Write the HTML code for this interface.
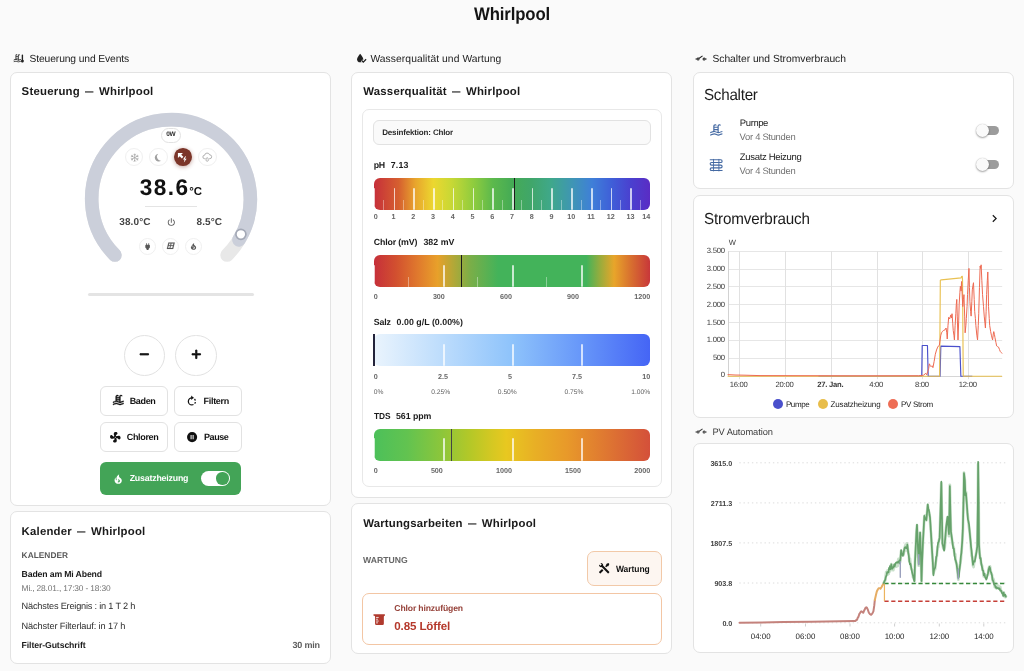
<!DOCTYPE html>
<html lang="de"><head><meta charset="utf-8"><title>Whirlpool</title><style>
html,body{margin:0;padding:0;}
body{width:1024px;height:671px;overflow:hidden;background:#fafafa;position:relative;font-family:"Liberation Sans",sans-serif;}
.t{position:absolute;white-space:pre;line-height:1;text-rendering:geometricPrecision;font-family:"Liberation Sans",sans-serif;}
.card{position:absolute;background:#fff;border:1px solid #e3e3e3;border-radius:7px;box-sizing:border-box;}
.abs{position:absolute;box-sizing:border-box;}
svg{position:absolute;overflow:visible;}
</style></head><body>
<header>
<span class="t" style="left:473.70px;top:5.00px;font-size:18.00px;font-weight:700;color:#141414;letter-spacing:-0.131px;transform:scaleX(0.930);transform-origin:0 0;">Whirlpool</span>
<span class="t" style="left:29.50px;top:55.00px;font-size:10.30px;font-weight:400;color:#212121;letter-spacing:-0.118px;">Steuerung und Events</span>
<span class="t" style="left:370.40px;top:55.00px;font-size:10.30px;font-weight:400;color:#212121;letter-spacing:0.072px;">Wasserqualität und Wartung</span>
<span class="t" style="left:712.40px;top:55.00px;font-size:10.30px;font-weight:400;color:#212121;letter-spacing:-0.014px;">Schalter und Stromverbrauch</span>
<span class="t" style="left:712.40px;top:428.00px;font-size:9.30px;font-weight:400;color:#3c3c3c;letter-spacing:-0.077px;">PV Automation</span>
<svg style="left:13.2px;top:52.6px" width="11" height="11" viewBox="0 0 24 24"><g transform="translate(0,1) scale(0.78,0.92)"><path d="M2,15C3.67,14.25 5.33,13.5 7,13.17V5A3,3 0 0,1 10,2C11.31,2 12.42,2.83 12.83,4H10A1,1 0 0,0 9,5V6H14V5A3,3 0 0,1 17,2C18.31,2 19.42,2.83 19.83,4H17A1,1 0 0,0 16,5V14.94C18,14.62 20,13 22,13V15C19.78,15 17.56,17 15.33,17C13.11,17 10.89,15 8.67,15C6.44,15 4.22,16 2,17V15M14,8H9V10H14V8M14,12H9V13C10.67,13.16 12.33,14.31 14,14.79V12M2,19C4.22,18 6.44,17 8.67,17C10.89,17 13.11,19 15.33,19C17.56,19 19.78,17 22,17V19C19.78,19 17.56,21 15.33,21C13.11,21 10.89,19 8.67,19C6.44,19 4.22,20 2,21V19Z" fill="#212121"/></g><path d="M20.5,3A1.5,1.5 0 0,1 22,4.5V14.6A3.2,3.2 0 1,1 19,14.6V4.5A1.5,1.5 0 0,1 20.5,3Z" fill="#212121"/></svg>
<svg style="left:355.0px;top:52.3px" width="12.4" height="12.4" viewBox="0 0 24 24"><path d="M10,20A6,6 0 0,1 4,14C4,10 10,3.25 10,3.25C10,3.25 16,10 16,14A6,6 0 0,1 10,20Z" fill="#212121"/><path d="M13,16.5l3,3l5.5,-5.5" stroke="#fafafa" stroke-width="5.2" fill="none"/><path d="M13,16.5l3,3l5.5,-5.5" stroke="#212121" stroke-width="2.4" fill="none"/></svg>
<svg style="left:695.10px;top:53.00px" width="12.1" height="12.1" viewBox="0 0 24 24"><path d="M1,11H3.17C3.58,9.83 4.69,9 6,9C6.65,9 7.25,9.21 7.74,9.56L14.44,4.87L15.58,6.5L8.89,11.2C8.96,11.45 9,11.72 9,12A3,3 0 0,1 6,15C4.69,15 3.58,14.17 3.17,13H1V11M23,11V13H20.83C20.42,14.17 19.31,15 18,15A3,3 0 0,1 15,12A3,3 0 0,1 18,9C19.31,9 20.42,9.83 20.83,11H23M6,11A1,1 0 0,0 5,12A1,1 0 0,0 6,13A1,1 0 0,0 7,12A1,1 0 0,0 6,11M18,11A1,1 0 0,0 17,12A1,1 0 0,0 18,13A1,1 0 0,0 19,12A1,1 0 0,0 18,11Z" fill="#212121"/></svg>
<svg style="left:694.80px;top:426.30px" width="12.1" height="12.1" viewBox="0 0 24 24"><path d="M1,11H3.17C3.58,9.83 4.69,9 6,9C6.65,9 7.25,9.21 7.74,9.56L14.44,4.87L15.58,6.5L8.89,11.2C8.96,11.45 9,11.72 9,12A3,3 0 0,1 6,15C4.69,15 3.58,14.17 3.17,13H1V11M23,11V13H20.83C20.42,14.17 19.31,15 18,15A3,3 0 0,1 15,12A3,3 0 0,1 18,9C19.31,9 20.42,9.83 20.83,11H23M6,11A1,1 0 0,0 5,12A1,1 0 0,0 6,13A1,1 0 0,0 7,12A1,1 0 0,0 6,11M18,11A1,1 0 0,0 17,12A1,1 0 0,0 18,13A1,1 0 0,0 19,12A1,1 0 0,0 18,11Z" fill="#3c3c3c"/></svg>
</header>
<main>
<section aria-label="Steuerung und Events">
<div class="card" style="left:10.10px;top:72.10px;width:320.90px;height:433.60px;border-radius:7px;"></div>
<span class="t" style="left:21.60px;top:87.00px;font-size:11.40px;font-weight:700;color:#1a1a1a;letter-spacing:0.228px;">Steuerung</span>
<span class="t" style="left:85.20px;top:87.00px;font-size:11.40px;font-weight:700;color:#1a1a1a;letter-spacing:0.000px;transform:scaleX(0.737);transform-origin:0 0;">—</span>
<span class="t" style="left:99.10px;top:87.00px;font-size:11.40px;font-weight:700;color:#1a1a1a;letter-spacing:0.206px;">Whirlpool</span>
<svg style="left:0;top:0" width="340" height="300" viewBox="0 0 340 300"><path d="M114.93 255.07 A79.30 79.30 0 1 1 227.07 255.07" fill="none" stroke="#e8e8e8" stroke-width="13.6" stroke-linecap="round"/><path d="M114.93 255.07 A79.30 79.30 0 1 1 238.97 239.84" fill="none" stroke="#cbcfda" stroke-width="13.6" stroke-linecap="round"/><circle cx="240.90" cy="234.30" r="5.0" fill="#fff" stroke="#a4a9b6" stroke-width="1.7"/></svg>
<div class="abs" style="left:160.60px;top:127.60px;width:20.80px;height:15.60px;border:1px solid #e2e2e2;border-radius:8px;background:#fff;"></div>
<span class="t" style="left:166.30px;top:132.00px;font-size:6.50px;font-weight:700;color:#2a2a2a;letter-spacing:-0.350px;">0W</span>
<div class="abs" style="left:124.90px;top:147.90px;width:18.60px;height:18.60px;border-radius:50%;background:#fff;border:1px solid #f0f0f0;"></div>
<div class="abs" style="left:149.30px;top:147.90px;width:18.60px;height:18.60px;border-radius:50%;background:#fff;border:1px solid #f0f0f0;"></div>
<div class="abs" style="left:174.10px;top:148.30px;width:17.80px;height:17.80px;border-radius:50%;background:#7b3529;box-shadow:0 1px 4px rgba(123,53,41,.45);"></div>
<div class="abs" style="left:198.10px;top:147.90px;width:18.60px;height:18.60px;border-radius:50%;background:#fff;border:1px solid #f0f0f0;"></div>
<svg style="left:129.6px;top:152.6px" width="9.4" height="9.4" viewBox="0 0 24 24"><path d="M12.00,21.50L12.00,2.50M3.77,16.75L20.23,7.25M3.77,7.25L20.23,16.75M12.00,18.60L14.26,20.86M12.00,18.60L9.74,20.86M6.28,15.30L5.46,18.39M6.28,15.30L3.19,14.47M6.28,8.70L3.19,9.53M6.28,8.70L5.46,5.61M12.00,5.40L9.74,3.14M12.00,5.40L14.26,3.14M17.72,8.70L18.54,5.61M17.72,8.70L20.81,9.53M17.72,15.30L20.81,14.47M17.72,15.30L18.54,18.39" fill="none" stroke="#a0a0a0" stroke-width="1.7" stroke-linecap="round"/></svg>
<svg style="left:154.10px;top:152.60px" width="9.40" height="9.40" viewBox="0 0 24 24"><path d="M2 12A10 10 0 0 0 15 21.54A10 10 0 0 1 15 2.46A10 10 0 0 0 2 12Z" fill="#a0a0a0" transform="rotate(-25 12 12)"/></svg>
<svg style="left:177.3px;top:151.9px" width="11" height="11" viewBox="0 0 24 24"><path d="M2,2H13L9.2,5.8L14,10.6L10.6,14L5.8,9.2L2,13Z" fill="#fff"/><path d="M18,9L13,16.5H16.5L15,23L21,14.5H17.5L19.5,9Z" fill="#fff"/></svg>
<svg style="left:202.2px;top:152.0px" width="10.4" height="10.4" viewBox="0 0 24 24"><path d="M7.5,15.5H6A4,4 0 0,1 6,7.5A6,6 0 0,1 17.6,6.5A4.5,4.5 0 0,1 18,15.5H16.5" fill="none" stroke="#a0a0a0" stroke-width="1.9" stroke-linecap="round"/><path d="M12,12.5C12,12.5 9.2,16.4 9.2,18.6A2.8,2.8 0 0,0 14.8,18.6C14.8,16.4 12,12.5 12,12.5Z" fill="none" stroke="#a0a0a0" stroke-width="1.7"/></svg>
<span class="t" style="left:139.80px;top:177.00px;font-size:22.60px;font-weight:700;color:#111;letter-spacing:1.406px;">38.6</span>
<span class="t" style="left:189.20px;top:187.00px;font-size:11.40px;font-weight:700;color:#111;letter-spacing:0.008px;">°C</span>
<div class="abs" style="left:145.00px;top:206.10px;width:51.50px;height:1.00px;background:#e4e4e4;"></div>
<span class="t" style="left:119.20px;top:218.00px;font-size:10.00px;font-weight:700;color:#444;letter-spacing:0.142px;">38.0°C</span>
<span class="t" style="left:196.50px;top:218.00px;font-size:10.00px;font-weight:700;color:#444;letter-spacing:0.118px;">8.5°C</span>
<svg style="left:165.60px;top:216.90px" width="10.60" height="10.60" viewBox="0 0 24 24"><path d="M16.56,5.44L15.11,6.89C16.84,7.94 18,9.83 18,12A6,6 0 0,1 12,18A6,6 0 0,1 6,12C6,9.83 7.16,7.94 8.88,6.88L7.44,5.44C5.36,6.88 4,9.28 4,12A8,8 0 0,0 12,20A8,8 0 0,0 20,12C20,9.28 18.64,6.88 16.56,5.44M13,3H11V13H13" fill="#555" /></svg>
<div class="abs" style="left:139.10px;top:237.50px;width:17.20px;height:17.20px;border-radius:50%;background:#fff;border:1px solid #f0f0f0;"></div>
<div class="abs" style="left:161.90px;top:237.50px;width:17.20px;height:17.20px;border-radius:50%;background:#fff;border:1px solid #f0f0f0;"></div>
<div class="abs" style="left:184.90px;top:237.50px;width:17.20px;height:17.20px;border-radius:50%;background:#fff;border:1px solid #f0f0f0;"></div>
<svg style="left:143.10px;top:241.70px" width="9.20" height="9.20" viewBox="0 0 24 24"><path d="M16,7V3H14V7H10V3H8V7H8C7,7 6,8 6,9V14.5L9.5,18V21H14.5V18L18,14.5V9C18,8 17,7 16,7Z" fill="#585858" /></svg>
<svg style="left:165.7px;top:241.4px" width="9.6" height="9.6" viewBox="0 0 24 24"><path d="M6,4H22L18,20H2Z M11.5,6.2H8L7,10.5H10.5Z M13.8,6.2L12.8,10.5H17.5L18.6,6.2Z M6.5,12.8L5.2,17.8H8.8L10,12.8Z M12.2,12.8L11,17.8H15.8L17,12.8Z" fill="#585858" fill-rule="evenodd" stroke="#585858" stroke-width="0.3"/></svg>
<svg style="left:189.00px;top:241.50px" width="9.00" height="9.00" viewBox="0 0 24 24"><path d="M17.66 11.2C17.43 10.9 17.15 10.64 16.89 10.38C16.22 9.78 15.46 9.35 14.82 8.72C13.33 7.26 13 4.85 13.95 3C13 3.23 12.17 3.75 11.46 4.32C8.87 6.4 7.85 10.07 9.07 13.22C9.11 13.32 9.15 13.42 9.15 13.55C9.15 13.77 9 13.97 8.8 14.05C8.57 14.15 8.33 14.09 8.14 13.93C8.08 13.88 8.04 13.83 8 13.76C6.87 12.33 6.69 10.28 7.45 8.64C5.78 10 4.87 12.3 5 14.47C5.06 14.97 5.12 15.47 5.29 15.97C5.43 16.57 5.7 17.17 6 17.7C7.08 19.43 8.95 20.67 10.96 20.92C13.1 21.19 15.39 20.8 17.03 19.32C18.86 17.66 19.5 15 18.56 12.72L18.43 12.46C18.22 12 17.66 11.2 17.66 11.2M14.5 17.5C14.22 17.74 13.76 18 13.4 18.1C12.28 18.5 11.16 17.94 10.5 17.28C11.69 17 12.4 16.12 12.61 15.23C12.78 14.43 12.46 13.77 12.33 13C12.21 12.26 12.23 11.63 12.5 10.94C12.69 11.32 12.89 11.7 13.13 12C13.9 13 15.11 13.44 15.37 14.8C15.41 14.94 15.43 15.08 15.43 15.23C15.46 16.05 15.1 16.95 14.5 17.5H14.5Z" fill="#585858" /></svg>
<div class="abs" style="left:87.60px;top:293.20px;width:166.60px;height:3.00px;background:#e4e4e4;border-radius:2px;"></div>
<div class="abs" style="left:123.70px;top:334.60px;width:41.40px;height:41.40px;border-radius:50%;background:#fff;border:1px solid #e2e2e2;"></div>
<svg style="left:137.30px;top:347.10px" width="14.60" height="14.60" viewBox="0 0 24 24"><path d="M19,13H5V11H19V13Z" fill="#111" stroke="#111" stroke-width="1.5"/></svg>
<div class="abs" style="left:175.40px;top:334.60px;width:41.40px;height:41.40px;border-radius:50%;background:#fff;border:1px solid #e2e2e2;"></div>
<svg style="left:189.00px;top:347.10px" width="14.60" height="14.60" viewBox="0 0 24 24"><path d="M19,13H13V19H11V13H5V11H11V5H13V11H19V13Z" fill="#111" stroke="#111" stroke-width="1.5"/></svg>
<div class="abs" style="left:99.70px;top:385.70px;width:68.10px;height:30.30px;border:1px solid #e2e2e2;border-radius:6px;background:#fff;"></div>
<div class="abs" style="left:173.80px;top:385.70px;width:67.90px;height:30.30px;border:1px solid #e2e2e2;border-radius:6px;background:#fff;"></div>
<div class="abs" style="left:99.70px;top:421.70px;width:68.10px;height:30.20px;border:1px solid #e2e2e2;border-radius:6px;background:#fff;"></div>
<div class="abs" style="left:173.80px;top:421.70px;width:67.90px;height:30.20px;border:1px solid #e2e2e2;border-radius:6px;background:#fff;"></div>
<svg style="left:111.50px;top:394.40px" width="12.60" height="12.60" viewBox="0 0 24 24"><path d="M2,15C3.67,14.25 5.33,13.5 7,13.17V5A3,3 0 0,1 10,2C11.31,2 12.42,2.83 12.83,4H10A1,1 0 0,0 9,5V6H14V5A3,3 0 0,1 17,2C18.31,2 19.42,2.83 19.83,4H17A1,1 0 0,0 16,5V14.94C18,14.62 20,13 22,13V15C19.78,15 17.56,17 15.33,17C13.11,17 10.89,15 8.67,15C6.44,15 4.22,16 2,17V15M14,8H9V10H14V8M14,12H9V13C10.67,13.16 12.33,14.31 14,14.79V12M2,19C4.22,18 6.44,17 8.67,17C10.89,17 13.11,19 15.33,19C17.56,19 19.78,17 22,17V19C19.78,19 17.56,21 15.33,21C13.11,21 10.89,19 8.67,19C6.44,19 4.22,20 2,21V19Z" fill="#111" stroke="#111" stroke-width="0.7"/></svg>
<span class="t" style="left:129.70px;top:397.00px;font-size:9.00px;font-weight:700;color:#111;letter-spacing:-0.352px;">Baden</span>
<svg style="left:185.6px;top:395.0px" width="11.8" height="11.8" viewBox="0 0 24 24"><path d="M12,5.8A7.2,7.2 0 0,0 12,20.2" fill="none" stroke="#111" stroke-width="2.6"/><path d="M12,20.2A7.2,7.2 0 0,0 14,6.1" fill="none" stroke="#111" stroke-width="2.6" stroke-dasharray="3.4 3"/><path d="M10.6,1.2L15.8,5.8L10.6,10.4Z" fill="#111"/></svg>
<span class="t" style="left:203.50px;top:397.00px;font-size:9.00px;font-weight:700;color:#111;letter-spacing:-0.284px;">Filtern</span>
<svg style="left:109.30px;top:430.70px" width="12.60" height="12.60" viewBox="0 0 24 24"><path d="M12,11A1,1 0 0,0 11,12A1,1 0 0,0 12,13A1,1 0 0,0 13,12A1,1 0 0,0 12,11M12.5,2C17,2 17.11,5.57 14.75,6.75C13.76,7.24 13.32,8.29 13.13,9.22C13.61,9.42 14.03,9.73 14.35,10.13C18.05,8.13 22.03,8.92 22.03,12.5C22.03,17 18.46,17.1 17.28,14.73C16.78,13.74 15.72,13.3 14.79,13.11C14.59,13.59 14.28,14 13.88,14.34C15.87,18.03 15.08,22 11.5,22C7,22 6.91,18.42 9.27,17.24C10.25,16.75 10.69,15.71 10.89,14.79C10.4,14.59 9.97,14.27 9.65,13.87C5.96,15.85 2,15.07 2,11.5C2,7 5.56,6.89 6.74,9.26C7.24,10.25 8.29,10.68 9.22,10.87C9.41,10.39 9.73,9.97 10.14,9.65C8.15,5.96 8.94,2 12.5,2Z" fill="#111" /></svg>
<span class="t" style="left:126.80px;top:433.00px;font-size:9.00px;font-weight:700;color:#111;letter-spacing:-0.350px;">Chloren</span>
<svg style="left:186.10px;top:430.90px" width="12.20" height="12.20" viewBox="0 0 24 24"><path d="M15,16H13V8H15M11,16H9V8H11M12,2A10,10 0 0,0 2,12A10,10 0 0,0 12,22A10,10 0 0,0 22,12A10,10 0 0,0 12,2Z" fill="#111" /></svg>
<span class="t" style="left:204.00px;top:433.00px;font-size:9.00px;font-weight:700;color:#111;letter-spacing:-0.430px;">Pause</span>
<div class="abs" style="left:100.20px;top:462.40px;width:141.00px;height:32.30px;border-radius:6px;background:#43a457;"></div>
<svg style="left:111.80px;top:472.50px" width="12.40" height="12.40" viewBox="0 0 24 24"><path d="M17.66 11.2C17.43 10.9 17.15 10.64 16.89 10.38C16.22 9.78 15.46 9.35 14.82 8.72C13.33 7.26 13 4.85 13.95 3C13 3.23 12.17 3.75 11.46 4.32C8.87 6.4 7.85 10.07 9.07 13.22C9.11 13.32 9.15 13.42 9.15 13.55C9.15 13.77 9 13.97 8.8 14.05C8.57 14.15 8.33 14.09 8.14 13.93C8.08 13.88 8.04 13.83 8 13.76C6.87 12.33 6.69 10.28 7.45 8.64C5.78 10 4.87 12.3 5 14.47C5.06 14.97 5.12 15.47 5.29 15.97C5.43 16.57 5.7 17.17 6 17.7C7.08 19.43 8.95 20.67 10.96 20.92C13.1 21.19 15.39 20.8 17.03 19.32C18.86 17.66 19.5 15 18.56 12.72L18.43 12.46C18.22 12 17.66 11.2 17.66 11.2M14.5 17.5C14.22 17.74 13.76 18 13.4 18.1C12.28 18.5 11.16 17.94 10.5 17.28C11.69 17 12.4 16.12 12.61 15.23C12.78 14.43 12.46 13.77 12.33 13C12.21 12.26 12.23 11.63 12.5 10.94C12.69 11.32 12.89 11.7 13.13 12C13.9 13 15.11 13.44 15.37 14.8C15.41 14.94 15.43 15.08 15.43 15.23C15.46 16.05 15.1 16.95 14.5 17.5H14.5Z" fill="#fff" /></svg>
<span class="t" style="left:129.70px;top:474.00px;font-size:8.80px;font-weight:700;color:#fff;letter-spacing:-0.193px;">Zusatzheizung</span>
<div class="abs" style="left:200.90px;top:470.80px;width:29.20px;height:15.20px;border-radius:8px;background:#fff;"></div>
<div class="abs" style="left:216.40px;top:472.20px;width:12.40px;height:12.40px;border-radius:50%;background:#43a457;"></div>
<div class="card" style="left:10.10px;top:510.70px;width:320.90px;height:153.00px;border-radius:7px;"></div>
<span class="t" style="left:21.60px;top:527.00px;font-size:11.40px;font-weight:700;color:#1a1a1a;letter-spacing:0.202px;">Kalender</span>
<span class="t" style="left:77.20px;top:527.00px;font-size:11.40px;font-weight:700;color:#1a1a1a;letter-spacing:0.000px;transform:scaleX(0.737);transform-origin:0 0;">—</span>
<span class="t" style="left:91.10px;top:527.00px;font-size:11.40px;font-weight:700;color:#1a1a1a;letter-spacing:0.206px;">Whirlpool</span>
<span class="t" style="left:21.60px;top:551.00px;font-size:8.30px;font-weight:700;color:#585858;letter-spacing:0.042px;">KALENDER</span>
<span class="t" style="left:21.60px;top:570.00px;font-size:8.70px;font-weight:700;color:#1a1a1a;letter-spacing:-0.139px;">Baden am Mi Abend</span>
<span class="t" style="left:21.60px;top:584.00px;font-size:8.40px;font-weight:400;color:#727272;letter-spacing:-0.164px;">Mi., 28.01., 17:30 - 18:30</span>
<span class="t" style="left:21.60px;top:602.00px;font-size:9.20px;font-weight:400;color:#2c2c2c;letter-spacing:-0.201px;">Nächstes Ereignis : in 1 T 2 h</span>
<span class="t" style="left:21.60px;top:622.00px;font-size:9.20px;font-weight:400;color:#2c2c2c;letter-spacing:-0.125px;">Nächster Filterlauf: in 17 h</span>
<span class="t" style="left:21.60px;top:641.00px;font-size:8.70px;font-weight:700;color:#1a1a1a;letter-spacing:-0.103px;">Filter-Gutschrift</span>
<span class="t" style="left:292.50px;top:641.00px;font-size:9.00px;font-weight:700;color:#5c5c5c;letter-spacing:-0.202px;">30 min</span>
</section>
<section aria-label="Wasserqualität und Wartung">
<div class="card" style="left:351.10px;top:72.10px;width:321.00px;height:426.00px;border-radius:7px;"></div>
<span class="t" style="left:363.20px;top:87.00px;font-size:11.40px;font-weight:700;color:#1a1a1a;letter-spacing:0.218px;">Wasserqualität</span>
<span class="t" style="left:452.10px;top:87.00px;font-size:11.40px;font-weight:700;color:#1a1a1a;letter-spacing:0.000px;transform:scaleX(0.737);transform-origin:0 0;">—</span>
<span class="t" style="left:466.00px;top:87.00px;font-size:11.40px;font-weight:700;color:#1a1a1a;letter-spacing:0.206px;">Whirlpool</span>
<div class="card" style="left:362.20px;top:109.00px;width:299.80px;height:378.30px;border-radius:7px;border-color:#e8e8e8;"></div>
<div class="abs" style="left:373.20px;top:119.60px;width:277.50px;height:25.50px;border:1px solid #e2e2e2;border-radius:6px;background:#fafafa;"></div>
<span class="t" style="left:382.20px;top:129.00px;font-size:8.00px;font-weight:700;color:#2a2a2a;letter-spacing:-0.155px;">Desinfektion: Chlor</span>
<span class="t" style="left:373.80px;top:161.00px;font-size:8.80px;font-weight:700;color:#1c1c1c;letter-spacing:-0.331px;">pH</span>
<span class="t" style="left:390.80px;top:161.00px;font-size:8.80px;font-weight:700;color:#1c1c1c;letter-spacing:0.123px;">7.13</span>
<div class="abs" style="left:373.80px;top:178.00px;width:276.40px;height:32.00px;border-radius:6px;overflow:hidden;background:linear-gradient(90deg,#c62f3a 0%,#d6602f 9%,#e8a52d 15%,#ecd72f 21.5%,#c8d835 28%,#8fcc3e 36%,#5cb94c 43%,#45ab55 50%,#40a66a 57%,#3fa88a 64%,#3f95b5 72%,#3f7fd8 79%,#3f5fd8 86%,#4a40cf 93%,#5a2cc4 100%);"><div class="abs" style="left:9.37px;top:22.08px;width:1px;height:9.92px;background:rgba(255,255,255,.38);"></div><div class="abs" style="left:29.11px;top:22.08px;width:1px;height:9.92px;background:rgba(255,255,255,.38);"></div><div class="abs" style="left:48.86px;top:22.08px;width:1px;height:9.92px;background:rgba(255,255,255,.38);"></div><div class="abs" style="left:68.60px;top:22.08px;width:1px;height:9.92px;background:rgba(255,255,255,.38);"></div><div class="abs" style="left:88.34px;top:22.08px;width:1px;height:9.92px;background:rgba(255,255,255,.38);"></div><div class="abs" style="left:108.09px;top:22.08px;width:1px;height:9.92px;background:rgba(255,255,255,.38);"></div><div class="abs" style="left:127.83px;top:22.08px;width:1px;height:9.92px;background:rgba(255,255,255,.38);"></div><div class="abs" style="left:147.57px;top:22.08px;width:1px;height:9.92px;background:rgba(255,255,255,.38);"></div><div class="abs" style="left:167.31px;top:22.08px;width:1px;height:9.92px;background:rgba(255,255,255,.38);"></div><div class="abs" style="left:187.06px;top:22.08px;width:1px;height:9.92px;background:rgba(255,255,255,.38);"></div><div class="abs" style="left:206.80px;top:22.08px;width:1px;height:9.92px;background:rgba(255,255,255,.38);"></div><div class="abs" style="left:226.54px;top:22.08px;width:1px;height:9.92px;background:rgba(255,255,255,.38);"></div><div class="abs" style="left:246.29px;top:22.08px;width:1px;height:9.92px;background:rgba(255,255,255,.38);"></div><div class="abs" style="left:266.03px;top:22.08px;width:1px;height:9.92px;background:rgba(255,255,255,.38);"></div><div class="abs" style="left:0.00px;top:9.60px;width:1.7px;height:22.40px;background:rgba(255,255,255,.72);border-radius:1px;"></div><div class="abs" style="left:19.74px;top:9.60px;width:1.7px;height:22.40px;background:rgba(255,255,255,.72);border-radius:1px;"></div><div class="abs" style="left:39.49px;top:9.60px;width:1.7px;height:22.40px;background:rgba(255,255,255,.72);border-radius:1px;"></div><div class="abs" style="left:59.23px;top:9.60px;width:1.7px;height:22.40px;background:rgba(255,255,255,.72);border-radius:1px;"></div><div class="abs" style="left:78.97px;top:9.60px;width:1.7px;height:22.40px;background:rgba(255,255,255,.72);border-radius:1px;"></div><div class="abs" style="left:98.71px;top:9.60px;width:1.7px;height:22.40px;background:rgba(255,255,255,.72);border-radius:1px;"></div><div class="abs" style="left:118.46px;top:9.60px;width:1.7px;height:22.40px;background:rgba(255,255,255,.72);border-radius:1px;"></div><div class="abs" style="left:138.20px;top:9.60px;width:1.7px;height:22.40px;background:rgba(255,255,255,.72);border-radius:1px;"></div><div class="abs" style="left:157.94px;top:9.60px;width:1.7px;height:22.40px;background:rgba(255,255,255,.72);border-radius:1px;"></div><div class="abs" style="left:177.69px;top:9.60px;width:1.7px;height:22.40px;background:rgba(255,255,255,.72);border-radius:1px;"></div><div class="abs" style="left:197.43px;top:9.60px;width:1.7px;height:22.40px;background:rgba(255,255,255,.72);border-radius:1px;"></div><div class="abs" style="left:217.17px;top:9.60px;width:1.7px;height:22.40px;background:rgba(255,255,255,.72);border-radius:1px;"></div><div class="abs" style="left:236.91px;top:9.60px;width:1.7px;height:22.40px;background:rgba(255,255,255,.72);border-radius:1px;"></div><div class="abs" style="left:256.66px;top:9.60px;width:1.7px;height:22.40px;background:rgba(255,255,255,.72);border-radius:1px;"></div><div class="abs" style="left:276.40px;top:9.60px;width:1.7px;height:22.40px;background:rgba(255,255,255,.72);border-radius:1px;"></div></div>
<div class="abs" style="left:513.92px;top:178.00px;width:1.30px;height:32.00px;background:#1c1c1c;"></div>
<span class="t" style="left:373.80px;top:213.00px;font-size:7.20px;font-weight:700;color:#666;letter-spacing:0.000px;">0</span>
<span class="t" style="left:391.54px;top:213.00px;font-size:7.20px;font-weight:700;color:#666;letter-spacing:0.000px;">1</span>
<span class="t" style="left:411.28px;top:213.00px;font-size:7.20px;font-weight:700;color:#666;letter-spacing:0.000px;">2</span>
<span class="t" style="left:431.03px;top:213.00px;font-size:7.20px;font-weight:700;color:#666;letter-spacing:0.000px;">3</span>
<span class="t" style="left:450.77px;top:213.00px;font-size:7.20px;font-weight:700;color:#666;letter-spacing:0.000px;">4</span>
<span class="t" style="left:470.51px;top:213.00px;font-size:7.20px;font-weight:700;color:#666;letter-spacing:0.000px;">5</span>
<span class="t" style="left:490.26px;top:213.00px;font-size:7.20px;font-weight:700;color:#666;letter-spacing:0.000px;">6</span>
<span class="t" style="left:510.00px;top:213.00px;font-size:7.20px;font-weight:700;color:#666;letter-spacing:0.000px;">7</span>
<span class="t" style="left:529.74px;top:213.00px;font-size:7.20px;font-weight:700;color:#666;letter-spacing:0.000px;">8</span>
<span class="t" style="left:549.48px;top:213.00px;font-size:7.20px;font-weight:700;color:#666;letter-spacing:0.000px;">9</span>
<span class="t" style="left:567.23px;top:213.00px;font-size:7.20px;font-weight:700;color:#666;letter-spacing:0.000px;">10</span>
<span class="t" style="left:587.17px;top:213.00px;font-size:7.20px;font-weight:700;color:#666;letter-spacing:0.000px;">11</span>
<span class="t" style="left:606.71px;top:213.00px;font-size:7.20px;font-weight:700;color:#666;letter-spacing:0.000px;">12</span>
<span class="t" style="left:626.45px;top:213.00px;font-size:7.20px;font-weight:700;color:#666;letter-spacing:0.000px;">13</span>
<span class="t" style="left:642.19px;top:213.00px;font-size:7.20px;font-weight:700;color:#666;letter-spacing:0.000px;">14</span>
<span class="t" style="left:373.80px;top:238.00px;font-size:8.80px;font-weight:700;color:#1c1c1c;letter-spacing:-0.153px;">Chlor (mV)</span>
<span class="t" style="left:423.40px;top:238.00px;font-size:8.80px;font-weight:700;color:#1c1c1c;letter-spacing:0.035px;">382 mV</span>
<div class="abs" style="left:373.80px;top:255.10px;width:276.40px;height:31.80px;border-radius:6px;overflow:hidden;background:linear-gradient(90deg,#c62f3a 0%,#d2502f 8%,#e07a2d 16%,#e8a02a 23%,#b0a838 29%,#7aae48 35%,#43b35a 45%,#43b35a 77%,#9aac3c 82%,#e8a52a 87%,#d8702f 93%,#c8373a 100%);"><div class="abs" style="left:34.05px;top:21.94px;width:1px;height:9.86px;background:rgba(255,255,255,.38);"></div><div class="abs" style="left:103.15px;top:21.94px;width:1px;height:9.86px;background:rgba(255,255,255,.38);"></div><div class="abs" style="left:172.25px;top:21.94px;width:1px;height:9.86px;background:rgba(255,255,255,.38);"></div><div class="abs" style="left:0.00px;top:9.54px;width:1.7px;height:22.26px;background:rgba(255,255,255,.72);border-radius:1px;"></div><div class="abs" style="left:69.10px;top:9.54px;width:1.7px;height:22.26px;background:rgba(255,255,255,.72);border-radius:1px;"></div><div class="abs" style="left:138.20px;top:9.54px;width:1.7px;height:22.26px;background:rgba(255,255,255,.72);border-radius:1px;"></div><div class="abs" style="left:207.30px;top:9.54px;width:1.7px;height:22.26px;background:rgba(255,255,255,.72);border-radius:1px;"></div><div class="abs" style="left:276.40px;top:9.54px;width:1.7px;height:22.26px;background:rgba(255,255,255,.72);border-radius:1px;"></div></div>
<div class="abs" style="left:461.14px;top:255.10px;width:1.30px;height:31.80px;background:#1c1c1c;"></div>
<span class="t" style="left:373.80px;top:293.00px;font-size:7.20px;font-weight:700;color:#666;letter-spacing:0.000px;">0</span>
<span class="t" style="left:432.89px;top:293.00px;font-size:7.20px;font-weight:700;color:#666;letter-spacing:0.000px;">300</span>
<span class="t" style="left:499.99px;top:293.00px;font-size:7.20px;font-weight:700;color:#666;letter-spacing:0.000px;">600</span>
<span class="t" style="left:567.09px;top:293.00px;font-size:7.20px;font-weight:700;color:#666;letter-spacing:0.000px;">900</span>
<span class="t" style="left:634.19px;top:293.00px;font-size:7.20px;font-weight:700;color:#666;letter-spacing:0.000px;">1200</span>
<span class="t" style="left:373.80px;top:318.00px;font-size:8.80px;font-weight:700;color:#1c1c1c;letter-spacing:-0.203px;">Salz</span>
<span class="t" style="left:396.60px;top:318.00px;font-size:8.80px;font-weight:700;color:#1c1c1c;letter-spacing:0.028px;">0.00 g/L (0.00%)</span>
<div class="abs" style="left:373.80px;top:334.10px;width:276.40px;height:32.10px;border-radius:6px;overflow:hidden;background:linear-gradient(90deg,#eaf4fd 0%,#bcdcfc 25%,#8ec3fb 50%,#6797f9 75%,#4565f5 100%);"><div class="abs" style="left:69.10px;top:9.63px;width:1.7px;height:22.47px;background:rgba(255,255,255,.72);border-radius:1px;"></div><div class="abs" style="left:138.20px;top:9.63px;width:1.7px;height:22.47px;background:rgba(255,255,255,.72);border-radius:1px;"></div><div class="abs" style="left:207.30px;top:9.63px;width:1.7px;height:22.47px;background:rgba(255,255,255,.72);border-radius:1px;"></div></div>
<div class="abs" style="left:373.10px;top:334.10px;width:2.00px;height:32.10px;background:#23233a;"></div>
<span class="t" style="left:373.80px;top:373.00px;font-size:7.20px;font-weight:700;color:#666;letter-spacing:0.000px;">0</span>
<span class="t" style="left:437.90px;top:373.00px;font-size:7.20px;font-weight:700;color:#666;letter-spacing:0.000px;">2.5</span>
<span class="t" style="left:508.00px;top:373.00px;font-size:7.20px;font-weight:700;color:#666;letter-spacing:0.000px;">5</span>
<span class="t" style="left:572.09px;top:373.00px;font-size:7.20px;font-weight:700;color:#666;letter-spacing:0.000px;">7.5</span>
<span class="t" style="left:642.19px;top:373.00px;font-size:7.20px;font-weight:700;color:#666;letter-spacing:0.000px;">10</span>
<span class="t" style="left:373.80px;top:390.00px;font-size:6.70px;font-weight:400;color:#636363;letter-spacing:0.000px;">0%</span>
<span class="t" style="left:431.17px;top:390.00px;font-size:6.70px;font-weight:400;color:#636363;letter-spacing:0.000px;">0.25%</span>
<span class="t" style="left:497.84px;top:390.00px;font-size:6.70px;font-weight:400;color:#636363;letter-spacing:0.000px;">0.50%</span>
<span class="t" style="left:564.52px;top:390.00px;font-size:6.70px;font-weight:400;color:#636363;letter-spacing:0.000px;">0.75%</span>
<span class="t" style="left:631.20px;top:390.00px;font-size:6.70px;font-weight:400;color:#636363;letter-spacing:0.000px;">1.00%</span>
<span class="t" style="left:373.80px;top:412.00px;font-size:8.80px;font-weight:700;color:#1c1c1c;letter-spacing:-0.063px;transform:scaleX(0.950);transform-origin:0 0;">TDS</span>
<span class="t" style="left:396.00px;top:412.00px;font-size:8.80px;font-weight:700;color:#1c1c1c;letter-spacing:-0.051px;">561 ppm</span>
<div class="abs" style="left:373.80px;top:428.60px;width:276.40px;height:32.40px;border-radius:6px;overflow:hidden;background:linear-gradient(90deg,#4cc05a 0%,#62c350 12%,#8ec63a 25%,#b5c827 35%,#d6c822 43%,#e8c820 48%,#e8b025 58%,#e8992a 70%,#de7532 85%,#d4503a 100%);"><div class="abs" style="left:0.00px;top:9.72px;width:1.7px;height:22.68px;background:rgba(255,255,255,.72);border-radius:1px;"></div><div class="abs" style="left:69.10px;top:9.72px;width:1.7px;height:22.68px;background:rgba(255,255,255,.72);border-radius:1px;"></div><div class="abs" style="left:138.20px;top:9.72px;width:1.7px;height:22.68px;background:rgba(255,255,255,.72);border-radius:1px;"></div><div class="abs" style="left:207.30px;top:9.72px;width:1.7px;height:22.68px;background:rgba(255,255,255,.72);border-radius:1px;"></div><div class="abs" style="left:276.40px;top:9.72px;width:1.7px;height:22.68px;background:rgba(255,255,255,.72);border-radius:1px;"></div></div>
<div class="abs" style="left:450.68px;top:428.60px;width:1.30px;height:32.40px;background:#444;"></div>
<span class="t" style="left:373.80px;top:467.00px;font-size:7.20px;font-weight:700;color:#666;letter-spacing:0.000px;">0</span>
<span class="t" style="left:430.89px;top:467.00px;font-size:7.20px;font-weight:700;color:#666;letter-spacing:0.000px;">500</span>
<span class="t" style="left:495.99px;top:467.00px;font-size:7.20px;font-weight:700;color:#666;letter-spacing:0.000px;">1000</span>
<span class="t" style="left:565.09px;top:467.00px;font-size:7.20px;font-weight:700;color:#666;letter-spacing:0.000px;">1500</span>
<span class="t" style="left:634.19px;top:467.00px;font-size:7.20px;font-weight:700;color:#666;letter-spacing:0.000px;">2000</span>
<div class="card" style="left:351.10px;top:503.10px;width:321.00px;height:151.00px;border-radius:7px;"></div>
<span class="t" style="left:363.20px;top:519.00px;font-size:11.40px;font-weight:700;color:#1a1a1a;letter-spacing:0.187px;">Wartungsarbeiten</span>
<span class="t" style="left:467.90px;top:519.00px;font-size:11.40px;font-weight:700;color:#1a1a1a;letter-spacing:0.000px;transform:scaleX(0.737);transform-origin:0 0;">—</span>
<span class="t" style="left:481.80px;top:519.00px;font-size:11.40px;font-weight:700;color:#1a1a1a;letter-spacing:0.206px;">Whirlpool</span>
<span class="t" style="left:363.00px;top:556.00px;font-size:8.60px;font-weight:700;color:#666;letter-spacing:0.062px;">WARTUNG</span>
<div class="abs" style="left:586.70px;top:550.60px;width:75.50px;height:35.90px;border:1px solid #f2c9a8;border-radius:7px;background:#fdf6f1;"></div>
<svg style="left:598.40px;top:562.10px" width="12.40" height="12.40" viewBox="0 0 24 24"><path d="M21.71 20.29L20.29 21.71A1 1 0 0 1 18.88 21.71L7 9.85A3.81 3.81 0 0 1 6 10A4 4 0 0 1 2.22 4.7L4.76 7.24L5.29 6.71L6.71 5.29L7.24 4.76L4.7 2.22A4 4 0 0 1 10 6A3.81 3.81 0 0 1 9.85 7L21.71 18.88A1 1 0 0 1 21.71 20.29M2.29 18.88A1 1 0 0 0 2.29 20.29L3.71 21.71A1 1 0 0 0 5.12 21.71L10.59 16.25L7.76 13.42M20 2L16 4V6L13.83 8.17L15.83 10.17L18 8H20L22 4Z" fill="#111" /></svg>
<span class="t" style="left:616.20px;top:565.00px;font-size:9.00px;font-weight:700;color:#111;letter-spacing:-0.052px;transform:scaleX(0.940);transform-origin:0 0;">Wartung</span>
<div class="abs" style="left:361.80px;top:592.60px;width:300.40px;height:52.40px;border:1px solid #f3c6a4;border-radius:7px;background:#fff;"></div>
<svg style="left:373.2px;top:612.6px" width="12.4" height="13" viewBox="0 0 24 24"><path d="M1,2H23V4.5A2,2 0 0,0 21,6.5V20A2.5,2.5 0 0,1 18.5,22.5H6.5A2.5,2.5 0 0,1 4,20V6.5A2,2 0 0,0 2,4.5H1Z" fill="#b03a2e"/><path d="M6,8H11M6,11.5H9.5M6,15H11M6,18.5H9.5" stroke="#fff" stroke-width="1.6"/></svg>
<span class="t" style="left:394.30px;top:604.00px;font-size:8.60px;font-weight:700;color:#96423a;letter-spacing:-0.126px;">Chlor hinzufügen</span>
<span class="t" style="left:394.30px;top:621.00px;font-size:11.60px;font-weight:700;color:#b5392c;letter-spacing:-0.137px;">0.85 Löffel</span>
</section>
<section aria-label="Schalter und Stromverbrauch">
<div class="card" style="left:692.80px;top:72.10px;width:321.10px;height:117.40px;border-radius:7px;"></div>
<span class="t" style="left:704.40px;top:88.00px;font-size:16.00px;font-weight:400;color:#1c1c1c;letter-spacing:-0.280px;transform:scaleX(0.950);transform-origin:0 0;">Schalter</span>
<svg style="left:709.30px;top:122.70px" width="14.60" height="14.60" viewBox="0 0 24 24"><path d="M2,15C3.67,14.25 5.33,13.5 7,13.17V5A3,3 0 0,1 10,2C11.31,2 12.42,2.83 12.83,4H10A1,1 0 0,0 9,5V6H14V5A3,3 0 0,1 17,2C18.31,2 19.42,2.83 19.83,4H17A1,1 0 0,0 16,5V14.94C18,14.62 20,13 22,13V15C19.78,15 17.56,17 15.33,17C13.11,17 10.89,15 8.67,15C6.44,15 4.22,16 2,17V15M14,8H9V10H14V8M14,12H9V13C10.67,13.16 12.33,14.31 14,14.79V12M2,19C4.22,18 6.44,17 8.67,17C10.89,17 13.11,19 15.33,19C17.56,19 19.78,17 22,17V19C19.78,19 17.56,21 15.33,21C13.11,21 10.89,19 8.67,19C6.44,19 4.22,20 2,21V19Z" fill="#456aa3" /></svg>
<svg style="left:708.7px;top:157.7px" width="14.3" height="14.3" viewBox="0 0 24 24"><path d="M2,3H19.75A2.25,2.25 0 0,1 19.75,7.5H4.25A2.25,2.25 0 0,0 4.25,12H19.75A2.25,2.25 0 0,1 19.75,16.5H4.25A2.25,2.25 0 0,0 4.25,21H22" stroke="#456aa3" stroke-width="1.9" stroke-linecap="round" fill="none"/><path d="M7.6,1.6V22.4M16.6,1.6V22.4" stroke="#456aa3" stroke-width="1.5" fill="none"/></svg>
<span class="t" style="left:739.80px;top:119.00px;font-size:9.50px;font-weight:400;color:#212121;letter-spacing:-0.375px;">Pumpe</span>
<span class="t" style="left:739.60px;top:132.00px;font-size:9.40px;font-weight:400;color:#727272;letter-spacing:-0.283px;">Vor 4 Stunden</span>
<span class="t" style="left:739.80px;top:153.00px;font-size:9.50px;font-weight:400;color:#212121;letter-spacing:-0.308px;">Zusatz Heizung</span>
<span class="t" style="left:739.60px;top:166.00px;font-size:9.40px;font-weight:400;color:#727272;letter-spacing:-0.283px;">Vor 4 Stunden</span>
<div class="abs" style="left:979.50px;top:125.70px;width:19.80px;height:9.20px;background:#9c9c9c;border-radius:5px;"></div>
<div class="abs" style="left:975.70px;top:123.70px;width:13.20px;height:13.20px;background:#fafafa;border-radius:50%;box-shadow:0 1px 2px rgba(0,0,0,.35),0 0 1px rgba(0,0,0,.25);"></div>
<div class="abs" style="left:979.50px;top:160.00px;width:19.80px;height:9.20px;background:#9c9c9c;border-radius:5px;"></div>
<div class="abs" style="left:975.70px;top:158.00px;width:13.20px;height:13.20px;background:#fafafa;border-radius:50%;box-shadow:0 1px 2px rgba(0,0,0,.35),0 0 1px rgba(0,0,0,.25);"></div>
<div class="card" style="left:692.80px;top:195.10px;width:321.10px;height:222.80px;border-radius:7px;"></div>
<span class="t" style="left:704.30px;top:212.00px;font-size:16.00px;font-weight:400;color:#1c1c1c;letter-spacing:-0.172px;transform:scaleX(0.950);transform-origin:0 0;">Stromverbrauch</span>
<svg style="left:987.10px;top:211.30px" width="15.00" height="15.00" viewBox="0 0 24 24"><path d="M8.59,16.58L13.17,12L8.59,7.41L10,6L16,12L10,18L8.59,16.58Z" fill="#1c1c1c" /></svg>
<svg style="left:0;top:0" width="1024" height="671" viewBox="0 0 1024 671"><line x1="728.6" x2="1002.2" y1="376.50" y2="376.50" stroke="#d6d6d6" stroke-width="1"/><line x1="728.6" x2="1002.2" y1="358.50" y2="358.50" stroke="#e6e6e6" stroke-width="1"/><line x1="728.6" x2="1002.2" y1="340.50" y2="340.50" stroke="#e6e6e6" stroke-width="1"/><line x1="728.6" x2="1002.2" y1="322.50" y2="322.50" stroke="#e6e6e6" stroke-width="1"/><line x1="728.6" x2="1002.2" y1="304.50" y2="304.50" stroke="#e6e6e6" stroke-width="1"/><line x1="728.6" x2="1002.2" y1="286.50" y2="286.50" stroke="#e6e6e6" stroke-width="1"/><line x1="728.6" x2="1002.2" y1="269.50" y2="269.50" stroke="#e6e6e6" stroke-width="1"/><line x1="728.6" x2="1002.2" y1="251.50" y2="251.50" stroke="#e6e6e6" stroke-width="1"/><line x1="739.50" x2="739.50" y1="251.2" y2="379.2" stroke="#e1e1e1" stroke-width="1"/><line x1="785.50" x2="785.50" y1="251.2" y2="379.2" stroke="#e1e1e1" stroke-width="1"/><line x1="831.50" x2="831.50" y1="251.2" y2="379.2" stroke="#e1e1e1" stroke-width="1"/><line x1="877.50" x2="877.50" y1="251.2" y2="379.2" stroke="#e1e1e1" stroke-width="1"/><line x1="922.50" x2="922.50" y1="251.2" y2="379.2" stroke="#e1e1e1" stroke-width="1"/><line x1="968.50" x2="968.50" y1="251.2" y2="379.2" stroke="#e1e1e1" stroke-width="1"/><line x1="728.5" x2="728.5" y1="251.2" y2="376.7" stroke="#d2d2d2" stroke-width="1"/><polyline fill="none" stroke="#4a50cc" stroke-width="1.15" stroke-linejoin="round" points="818.44,376.22 921.73,376.22 922.20,345.45 927.45,345.45 928.17,376.22 940.10,376.22 940.81,346.16 959.90,346.64 960.85,376.22 972.30,376.22"/><polyline fill="none" stroke="#e9c152" stroke-width="1.15" stroke-linejoin="round" points="727.60,376.20 939.62,376.22 940.33,280.32 941.29,279.85 961.09,277.94 961.56,276.51 962.28,276.27 962.52,280.32 963.23,376.22 1002.12,376.22"/><polyline fill="none" stroke="#ee6a52" stroke-width="1.00" stroke-linejoin="round" points="727.60,374.60 735.00,375.00 745.00,375.20 760.00,375.60 800.00,375.70 860.00,375.80 918.63,375.74 923.40,375.27 925.78,373.36 926.74,374.79 927.69,371.45 928.65,368.59 929.36,363.82 930.31,365.73 931.03,366.68 931.98,365.73 932.94,367.63 934.13,361.43 935.32,354.27 936.52,349.98 937.71,347.12 938.66,345.69 939.38,345.21 940.10,339.96 940.81,335.19 941.53,332.81 942.48,331.37 943.67,330.42 944.87,329.94 946.06,328.03 946.77,332.81 947.25,339.01 947.97,325.65 948.68,317.30 949.64,318.97 950.83,314.91 951.55,318.02 952.02,313.72 952.74,323.26 953.22,330.42 953.93,335.19 954.41,339.96 955.12,325.65 955.84,313.72 956.32,304.18 956.79,299.41 957.27,316.11 957.99,339.96 958.70,320.88 959.18,304.18 959.90,292.25 960.37,286.29 961.09,291.06 961.56,281.52 962.28,297.02 962.76,306.56 963.47,299.41 963.95,294.64 964.67,316.11 965.14,332.81 965.86,325.65 966.34,318.49 967.05,306.56 967.53,294.64 968.24,280.32 968.96,268.40 969.44,287.48 969.91,301.79 970.63,311.34 971.11,316.11 971.82,301.79 972.30,289.87 973.02,285.10 973.49,282.71 974.21,299.41 974.69,311.34 975.40,318.49 975.88,325.65 976.83,335.19 977.55,339.96 978.26,325.65 978.74,313.72 979.46,287.48 980.17,266.01 980.65,268.40 981.13,264.82 981.84,280.32 982.56,294.64 983.51,306.56 984.23,316.11 984.94,323.26 985.42,328.03 986.14,311.34 986.61,294.64 987.33,280.32 987.81,271.98 988.28,289.87 988.52,306.56 989.24,318.49 989.71,325.65 990.67,331.61 991.38,335.19 992.10,338.05 992.58,339.96 993.29,334.00 993.77,331.61 994.48,334.71 994.96,337.58 995.92,342.35 996.63,345.93 997.59,346.64 998.54,347.12 999.49,349.50 1000.21,351.41 1001.16,352.37 1002.12,353.56"/></svg>
<span class="t" style="left:720.82px;top:371.00px;font-size:7.70px;font-weight:400;color:#3a3a3a;letter-spacing:0.000px;">0</span>
<span class="t" style="left:712.89px;top:354.00px;font-size:7.70px;font-weight:400;color:#3a3a3a;letter-spacing:-0.321px;">500</span>
<span class="t" style="left:706.79px;top:336.00px;font-size:7.70px;font-weight:400;color:#3a3a3a;letter-spacing:-0.241px;">1.000</span>
<span class="t" style="left:706.79px;top:319.00px;font-size:7.70px;font-weight:400;color:#3a3a3a;letter-spacing:-0.241px;">1.500</span>
<span class="t" style="left:706.79px;top:301.00px;font-size:7.70px;font-weight:400;color:#3a3a3a;letter-spacing:-0.241px;">2.000</span>
<span class="t" style="left:706.79px;top:283.00px;font-size:7.70px;font-weight:400;color:#3a3a3a;letter-spacing:-0.241px;">2.500</span>
<span class="t" style="left:706.79px;top:265.00px;font-size:7.70px;font-weight:400;color:#3a3a3a;letter-spacing:-0.241px;">3.000</span>
<span class="t" style="left:706.79px;top:247.00px;font-size:7.70px;font-weight:400;color:#3a3a3a;letter-spacing:-0.241px;">3.500</span>
<span class="t" style="left:728.81px;top:239.00px;font-size:7.60px;font-weight:400;color:#3a3a3a;letter-spacing:0.000px;">W</span>
<span class="t" style="left:729.76px;top:381.00px;font-size:7.70px;font-weight:400;color:#3a3a3a;letter-spacing:-0.289px;">16:00</span>
<span class="t" style="left:775.58px;top:381.00px;font-size:7.70px;font-weight:400;color:#3a3a3a;letter-spacing:-0.289px;">20:00</span>
<span class="t" style="left:817.18px;top:381.00px;font-size:7.70px;font-weight:700;color:#3a3a3a;letter-spacing:-0.242px;">27. Jan.</span>
<span class="t" style="left:869.24px;top:381.00px;font-size:7.70px;font-weight:400;color:#3a3a3a;letter-spacing:-0.300px;">4:00</span>
<span class="t" style="left:915.06px;top:381.00px;font-size:7.70px;font-weight:400;color:#3a3a3a;letter-spacing:-0.300px;">8:00</span>
<span class="t" style="left:958.86px;top:381.00px;font-size:7.70px;font-weight:400;color:#3a3a3a;letter-spacing:-0.289px;">12:00</span>
<div class="abs" style="left:773.05px;top:399.35px;width:10.10px;height:10.10px;border-radius:50%;background:#4a50cc;"></div>
<div class="abs" style="left:818.05px;top:399.35px;width:10.10px;height:10.10px;border-radius:50%;background:#e8bd4a;"></div>
<div class="abs" style="left:888.25px;top:399.35px;width:10.10px;height:10.10px;border-radius:50%;background:#ee6d55;"></div>
<span class="t" style="left:785.90px;top:401.00px;font-size:8.00px;font-weight:400;color:#212121;letter-spacing:-0.362px;">Pumpe</span>
<span class="t" style="left:830.60px;top:401.00px;font-size:8.00px;font-weight:400;color:#212121;letter-spacing:-0.169px;">Zusatzheizung</span>
<span class="t" style="left:901.00px;top:401.00px;font-size:8.00px;font-weight:400;color:#212121;letter-spacing:-0.290px;">PV Strom</span>
<div class="card" style="left:693.00px;top:443.10px;width:320.70px;height:210.00px;border-radius:7px;"></div>
<svg style="left:0;top:0" width="1024" height="671" viewBox="0 0 1024 671"><line x1="739.3" x2="1006.6" y1="622.80" y2="622.80" stroke="#dcdcdc" stroke-width="1" stroke-dasharray="1.4 2.8"/><line x1="739.3" x2="1006.6" y1="583.00" y2="583.00" stroke="#dcdcdc" stroke-width="1" stroke-dasharray="1.4 2.8"/><line x1="739.3" x2="1006.6" y1="542.90" y2="542.90" stroke="#dcdcdc" stroke-width="1" stroke-dasharray="1.4 2.8"/><line x1="739.3" x2="1006.6" y1="502.90" y2="502.90" stroke="#dcdcdc" stroke-width="1" stroke-dasharray="1.4 2.8"/><line x1="739.3" x2="1006.6" y1="462.80" y2="462.80" stroke="#dcdcdc" stroke-width="1" stroke-dasharray="1.4 2.8"/><line x1="760.7" x2="760.7" y1="623.5" y2="626.5" stroke="#cfcfcf" stroke-width="1"/><line x1="805.5" x2="805.5" y1="623.5" y2="626.5" stroke="#cfcfcf" stroke-width="1"/><line x1="850.0" x2="850.0" y1="623.5" y2="626.5" stroke="#cfcfcf" stroke-width="1"/><line x1="894.6" x2="894.6" y1="623.5" y2="626.5" stroke="#cfcfcf" stroke-width="1"/><line x1="939.3" x2="939.3" y1="623.5" y2="626.5" stroke="#cfcfcf" stroke-width="1"/><line x1="983.8" x2="983.8" y1="623.5" y2="626.5" stroke="#cfcfcf" stroke-width="1"/><line x1="884.44" x2="1006.6" y1="583.4" y2="583.4" stroke="#35883a" stroke-width="1.5" stroke-dasharray="4.2 2.6"/><line x1="884.44" x2="1006.6" y1="601.2" y2="601.2" stroke="#c63f37" stroke-width="1.5" stroke-dasharray="4.2 2.6"/><line x1="884.44" x2="884.44" y1="583" y2="601" stroke="#ecb45e" stroke-width="1.2"/><polyline fill="none" stroke="#c4827c" stroke-width="2.00" stroke-linejoin="round" stroke-linecap="round" points="739.52,622.80 783.39,622.09 811.70,621.67 840.00,621.24 854.15,620.96 855.57,620.96 856.42,619.83 856.98,619.83 857.83,617.56 858.40,617.00 859.25,614.17 860.38,612.47 861.23,611.34 862.36,611.90 863.21,612.75 864.34,610.20 865.47,607.94 866.32,607.37 866.89,607.66 868.02,610.20 868.87,612.75 870.00,614.17 871.14,614.73 872.27,613.60 873.40,611.34 874.25,605.68 874.81,600.01"/><polyline fill="none" stroke="#e6ad64" stroke-width="2.00" stroke-linejoin="round" stroke-linecap="round" points="874.81,600.01 875.95,594.92 876.80,591.52 877.93,589.26 878.78,588.13 879.63,588.13 880.48,588.69 881.61,586.99 882.46,585.30 883.31,584.16 883.87,583.03"/><g opacity="0.45"><polyline fill="none" stroke="#86bb8a" stroke-width="2.80" stroke-linejoin="round" stroke-linecap="round" points="883.87,583.03 884.34,581.59 884.82,581.11 885.29,580.12 885.76,575.44 886.23,572.08 886.70,573.91 887.17,575.01 887.65,570.30 888.12,570.66 888.59,573.98 889.06,571.09 889.53,568.70 889.99,571.42 890.44,566.38 890.89,568.50 891.34,564.23 891.80,565.83 892.29,568.83 892.79,570.04 893.28,570.12 893.78,567.10 894.25,567.46 894.72,564.69 895.19,564.33 895.67,564.70 896.14,566.64 896.61,564.32 897.08,564.51 897.55,566.03 898.02,561.38 898.50,558.90 898.97,560.56 899.44,559.68 900.01,562.31 900.57,557.28 901.14,550.88 901.99,553.29 902.84,554.14 903.40,555.29 903.97,552.01 904.53,548.69 905.10,546.30 905.67,544.65 906.23,550.25 906.80,543.31 907.36,545.48 908.21,552.12 908.78,554.63 909.35,561.31 909.91,558.70 910.48,563.48 911.33,568.74 912.18,570.20 913.03,577.00 913.87,577.95 914.44,580.48 915.01,561.78 915.86,543.81 916.42,531.91 916.99,525.42 917.84,546.73 918.69,565.61 919.25,550.52 920.10,532.67 920.95,556.60 921.52,581.54 922.08,562.20 922.93,541.85 923.78,526.33 924.35,517.19 924.91,515.39 925.48,518.62 926.33,520.27 927.18,511.48 927.74,505.26 928.31,508.93 928.88,511.67 929.44,513.55 930.01,518.86 930.57,529.64 931.14,533.61 931.99,550.44 932.84,563.92 933.41,573.37 933.97,571.34 934.54,569.28 935.10,569.30 935.67,562.83 936.24,559.52 936.80,555.93 937.65,547.18 938.22,547.21 938.78,541.03 939.63,538.22 940.48,511.33 941.33,483.25 941.90,516.11 942.46,543.85 943.31,548.34 944.16,549.57 944.73,547.28 945.29,539.27 946.14,527.94 946.99,520.88 947.56,517.44 948.41,525.85 948.97,536.21 949.54,507.74 949.82,484.90 950.39,510.95 950.95,531.90 951.80,538.47 952.65,544.26 953.22,546.14 953.78,547.57 954.63,555.71 955.20,554.10 955.77,561.34 956.61,563.60 957.46,571.19 958.31,579.70 958.88,571.69 959.45,569.18 960.29,563.27 960.86,559.33 961.43,552.97 962.28,541.17 962.84,530.67 963.12,517.91 963.69,493.88 963.97,472.75 964.82,480.25 965.39,495.37 965.96,491.79 966.80,504.50 967.37,512.71 967.94,517.40 968.50,523.27 969.07,527.61 969.63,531.49 970.48,540.20 971.05,548.75 971.62,555.78 972.18,556.63 973.03,565.75 973.60,566.93 974.16,561.88 974.73,560.26 975.30,556.61 975.86,555.01 976.43,551.91 977.28,546.57 977.84,505.11 978.13,464.23 978.69,506.66 978.98,543.09 979.54,552.85 980.11,557.76 980.67,560.32 981.24,563.82 982.09,566.09 982.65,569.61 983.22,570.87 983.79,576.46 984.35,575.88 984.92,574.13 985.49,577.29 986.33,577.60 986.90,576.14 987.47,575.54 988.03,574.88 988.60,568.80 989.45,566.60 990.01,566.49 990.58,570.52 991.15,573.06 992.00,574.78 992.56,580.29 993.13,578.69 993.69,579.90 994.26,583.58 994.83,587.06 995.39,586.15 995.96,586.27 996.52,588.51 997.09,584.43 997.66,587.73 998.51,586.08 999.07,588.07 999.64,587.90 1000.20,587.00 1000.77,590.20 1001.34,590.74 1001.90,591.98 1002.75,594.08 1003.22,594.96 1003.69,592.41 1004.17,594.55 1004.73,596.81 1005.30,597.15 1005.86,596.43"/></g><polyline fill="none" stroke="#66a26b" stroke-width="1.70" stroke-linejoin="round" stroke-linecap="round" points="883.87,583.03 884.34,581.37 884.82,580.51 885.29,579.65 885.76,577.20 886.23,576.00 886.70,574.72 887.17,571.99 887.65,572.71 888.12,571.97 888.59,572.26 889.06,567.75 889.53,568.48 889.99,566.23 890.44,569.32 890.89,568.17 891.34,564.28 891.80,567.03 892.29,568.77 892.79,567.54 893.28,567.70 893.78,566.77 894.25,564.33 894.72,566.29 895.19,564.58 895.67,563.15 896.14,562.66 896.61,562.26 897.08,562.66 897.55,562.16 898.02,562.78 898.50,561.62 898.97,561.67 899.44,560.39 900.01,563.55 900.57,557.47 901.14,550.03 901.99,554.33 902.84,555.74 903.40,554.34 903.97,550.90 904.53,548.12 905.10,547.10 905.67,547.28 906.23,548.19 906.80,548.30 907.36,544.62 908.21,552.60 908.78,555.56 909.35,561.32 909.91,564.28 910.48,563.62 911.33,568.29 912.18,572.55 913.03,575.89 913.87,579.76 914.44,581.41 915.01,562.35 915.86,543.67 916.42,532.65 916.99,524.54 917.84,545.39 918.69,564.29 919.25,550.01 920.10,532.61 920.95,556.78 921.52,581.10 922.08,562.41 922.93,542.51 923.78,527.03 924.35,515.86 924.91,518.23 925.48,519.24 926.33,520.13 927.18,511.33 927.74,504.44 928.31,508.76 928.88,510.07 929.44,513.99 930.01,517.35 930.57,525.25 931.14,535.87 931.99,549.68 932.84,562.82 933.41,575.32 933.97,570.24 934.54,568.66 935.10,567.85 935.67,563.51 936.24,556.94 936.80,555.72 937.65,545.65 938.22,542.46 938.78,541.70 939.63,537.40 940.48,511.85 941.33,481.68 941.90,514.27 942.46,543.57 943.31,547.13 944.16,550.69 944.73,543.46 945.29,537.65 946.14,527.36 946.99,520.73 947.56,516.67 948.41,527.17 948.97,534.27 949.54,505.90 949.82,486.21 950.39,512.92 950.95,531.57 951.80,537.68 952.65,543.89 953.22,548.48 953.78,548.45 954.63,555.64 955.20,559.50 955.77,560.60 956.61,564.47 957.46,570.90 958.31,577.85 958.88,576.90 959.45,569.76 960.29,563.64 960.86,556.32 961.43,552.56 962.28,540.77 962.84,528.83 963.12,517.27 963.69,492.91 963.97,473.18 964.82,480.58 965.39,495.41 965.96,493.18 966.80,504.01 967.37,511.82 967.94,519.35 968.50,521.57 969.07,524.67 969.63,531.61 970.48,540.46 971.05,546.75 971.62,550.95 972.18,557.29 973.03,564.78 973.60,561.34 974.16,561.52 974.73,561.67 975.30,558.54 975.86,555.53 976.43,552.29 977.28,546.41 977.84,505.88 978.13,461.79 978.69,505.63 978.98,544.24 979.54,552.31 980.11,558.50 980.67,557.95 981.24,563.50 982.09,567.43 982.65,570.48 983.22,570.77 983.79,575.39 984.35,573.67 984.92,576.19 985.49,577.85 986.33,579.60 986.90,577.87 987.47,574.96 988.03,573.20 988.60,569.72 989.45,566.88 990.01,567.84 990.58,571.63 991.15,572.47 992.00,575.79 992.56,579.56 993.13,580.94 993.69,582.69 994.26,584.70 994.83,584.98 995.39,586.88 995.96,587.97 996.52,587.27 997.09,588.27 997.66,588.00 998.51,588.05 999.07,589.15 999.64,588.46 1000.20,590.60 1000.77,590.27 1001.34,590.94 1001.90,593.06 1002.75,593.51 1003.22,596.01 1003.69,592.71 1004.17,595.69 1004.73,595.67 1005.30,594.68 1005.86,596.74"/><polyline fill="none" stroke="#9aa0bd" stroke-width="1.40" stroke-linejoin="round" stroke-linecap="round" points="900.29,561.80 900.29,577.37"/><polyline fill="none" stroke="#9aa0bd" stroke-width="1.40" stroke-linejoin="round" stroke-linecap="round" points="918.69,554.73 918.69,564.63"/><polyline fill="none" stroke="#9aa0bd" stroke-width="1.40" stroke-linejoin="round" stroke-linecap="round" points="958.31,568.88 958.31,578.79"/></svg>
<span class="t" style="left:722.39px;top:620.00px;font-size:7.20px;font-weight:700;color:#444;letter-spacing:0.000px;">0.0</span>
<span class="t" style="left:714.39px;top:580.00px;font-size:7.20px;font-weight:700;color:#444;letter-spacing:0.000px;">903.8</span>
<span class="t" style="left:710.38px;top:540.00px;font-size:7.20px;font-weight:700;color:#444;letter-spacing:0.000px;">1807.5</span>
<span class="t" style="left:710.78px;top:500.00px;font-size:7.20px;font-weight:700;color:#444;letter-spacing:0.000px;">2711.3</span>
<span class="t" style="left:710.38px;top:460.00px;font-size:7.20px;font-weight:700;color:#444;letter-spacing:0.000px;">3615.0</span>
<span class="t" style="left:750.82px;top:633.00px;font-size:7.90px;font-weight:400;color:#222;letter-spacing:0.000px;">04:00</span>
<span class="t" style="left:795.62px;top:633.00px;font-size:7.90px;font-weight:400;color:#222;letter-spacing:0.000px;">06:00</span>
<span class="t" style="left:840.12px;top:633.00px;font-size:7.90px;font-weight:400;color:#222;letter-spacing:0.000px;">08:00</span>
<span class="t" style="left:884.72px;top:633.00px;font-size:7.90px;font-weight:400;color:#222;letter-spacing:0.000px;">10:00</span>
<span class="t" style="left:929.42px;top:633.00px;font-size:7.90px;font-weight:400;color:#222;letter-spacing:0.000px;">12:00</span>
<span class="t" style="left:973.92px;top:633.00px;font-size:7.90px;font-weight:400;color:#222;letter-spacing:0.000px;">14:00</span>
</section>
</main>
</body></html>
